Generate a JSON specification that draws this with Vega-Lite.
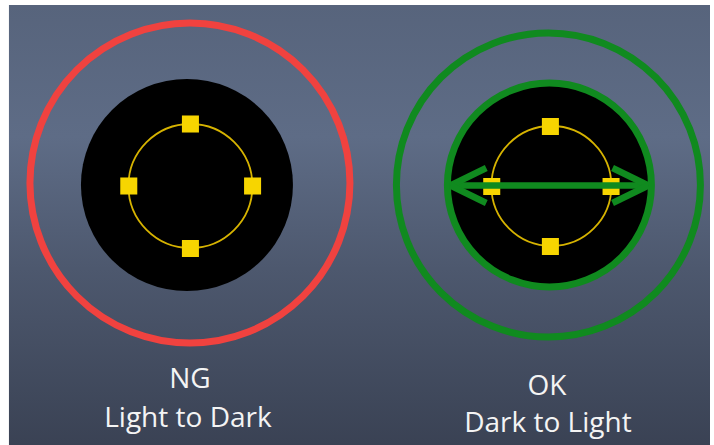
{
  "$schema": "https://vega.github.io/schema/vega-lite/v6.json",
  "width": 714,
  "height": 445,
  "padding": 0,
  "autosize": {"type": "fit", "contains": "padding"},
  "background": "#ffffff",
  "config": {"view": {"stroke": null}},
  "datasets": {
    "frame": [{"x0": 9, "x1": 714, "y0": 5, "y1": 445}],
    "discs": [
      {"panel": "NG", "cx": 188, "cy": 185, "r": 106},
      {"panel": "OK", "cx": 552.5, "cy": 185, "r": 102}
    ],
    "redRing": [{"panel": "NG", "cx": 191, "cy": 183, "r": 160}],
    "greenRings": [
      {"panel": "OK", "kind": "outer", "cx": 551.5, "cy": 185, "r": 152},
      {"panel": "OK", "kind": "inner", "cx": 552.5, "cy": 185, "r": 102}
    ],
    "guides": [
      {"panel": "NG", "cx": 191.5, "cy": 186, "r": 62},
      {"panel": "OK", "cx": 554.5, "cy": 186, "r": 60}
    ],
    "handles": [
      {"panel": "NG", "cx": 191.5, "cy": 124},
      {"panel": "NG", "cx": 129.5, "cy": 186},
      {"panel": "NG", "cx": 254, "cy": 186},
      {"panel": "NG", "cx": 191.5, "cy": 248.5},
      {"panel": "OK", "cx": 553.5, "cy": 126.5},
      {"panel": "OK", "cx": 553.5, "cy": 246.5},
      {"panel": "OK", "cx": 494.5, "cy": 186.5},
      {"panel": "OK", "cx": 614.5, "cy": 186.5}
    ],
    "arrow": [
      {"part": "shaft", "xa": 452, "ya": 185.5, "xb": 652, "yb": 185.5},
      {"part": "left-up", "xa": 453, "ya": 185.5, "xb": 489, "yb": 168},
      {"part": "left-down", "xa": 453, "ya": 185.5, "xb": 489, "yb": 203},
      {"part": "right-up", "xa": 652, "ya": 185.5, "xb": 616, "yb": 168},
      {"part": "right-down", "xa": 652, "ya": 185.5, "xb": 616, "yb": 203}
    ],
    "labels": [
      {"label": "NG", "tx": 191, "ty": 388},
      {"label": "Light to Dark", "tx": 189, "ty": 427},
      {"label": "OK", "tx": 550, "ty": 395},
      {"label": "Dark to Light", "tx": 551, "ty": 432}
    ]
  },
  "layer": [
    {
      "data": {"name": "frame"},
      "mark": {
        "type": "rect",
        "fill": {
          "gradient": "linear",
          "x1": 0, "y1": 0, "x2": 0, "y2": 1,
          "stops": [
            {"offset": 0, "color": "#57647c"},
            {"offset": 0.3, "color": "#5e6c86"},
            {"offset": 0.6, "color": "#4d586e"},
            {"offset": 1, "color": "#3a4254"}
          ]
        }
      },
      "encoding": {
        "x": {"field": "x0", "type": "quantitative", "scale": {"domain": [0, 714], "nice": false, "zero": false}, "axis": null},
        "x2": {"field": "x1"},
        "y": {"field": "y0", "type": "quantitative", "scale": {"domain": [0, 445], "nice": false, "zero": false, "reverse": true}, "axis": null},
        "y2": {"field": "y1"}
      }
    },
    {
      "data": {"name": "redRing"},
      "mark": {"type": "point", "shape": "circle", "filled": false, "stroke": "#f0423f", "strokeWidth": 7, "opacity": 1},
      "encoding": {
        "x": {"field": "cx", "type": "quantitative"},
        "y": {"field": "cy", "type": "quantitative"},
        "size": {"field": "r", "type": "quantitative", "scale": {"type": "pow", "exponent": 2, "domain": [0, 200], "range": [0, 160000]}, "legend": null}
      }
    },
    {
      "data": {"name": "discs"},
      "mark": {"type": "point", "shape": "circle", "filled": true, "fill": "#000000", "opacity": 1, "strokeWidth": 0},
      "encoding": {
        "x": {"field": "cx", "type": "quantitative"},
        "y": {"field": "cy", "type": "quantitative"},
        "size": {"field": "r", "type": "quantitative", "legend": null}
      }
    },
    {
      "data": {"name": "greenRings"},
      "mark": {"type": "point", "shape": "circle", "filled": false, "stroke": "#108a1f", "strokeWidth": 7, "opacity": 1},
      "encoding": {
        "x": {"field": "cx", "type": "quantitative"},
        "y": {"field": "cy", "type": "quantitative"},
        "size": {"field": "r", "type": "quantitative", "legend": null}
      }
    },
    {
      "data": {"name": "guides"},
      "mark": {"type": "point", "shape": "circle", "filled": false, "stroke": "#d6b300", "strokeWidth": 1.8, "opacity": 1},
      "encoding": {
        "x": {"field": "cx", "type": "quantitative"},
        "y": {"field": "cy", "type": "quantitative"},
        "size": {"field": "r", "type": "quantitative", "legend": null}
      }
    },
    {
      "data": {"name": "handles"},
      "mark": {"type": "point", "shape": "square", "filled": true, "fill": "#f7d500", "opacity": 1, "size": 290, "strokeWidth": 0},
      "encoding": {
        "x": {"field": "cx", "type": "quantitative"},
        "y": {"field": "cy", "type": "quantitative"}
      }
    },
    {
      "data": {"name": "arrow"},
      "mark": {"type": "rule", "stroke": "#108a1f", "strokeWidth": 6.5, "strokeCap": "butt"},
      "encoding": {
        "x": {"field": "xa", "type": "quantitative"},
        "y": {"field": "ya", "type": "quantitative"},
        "x2": {"field": "xb"},
        "y2": {"field": "yb"}
      }
    },
    {
      "data": {"name": "labels"},
      "mark": {"type": "text", "font": "Open Sans", "fontSize": 28, "fill": "#f4f4f4", "align": "center", "baseline": "alphabetic"},
      "encoding": {
        "x": {"field": "tx", "type": "quantitative"},
        "y": {"field": "ty", "type": "quantitative"},
        "text": {"field": "label", "type": "nominal"}
      }
    }
  ]
}
